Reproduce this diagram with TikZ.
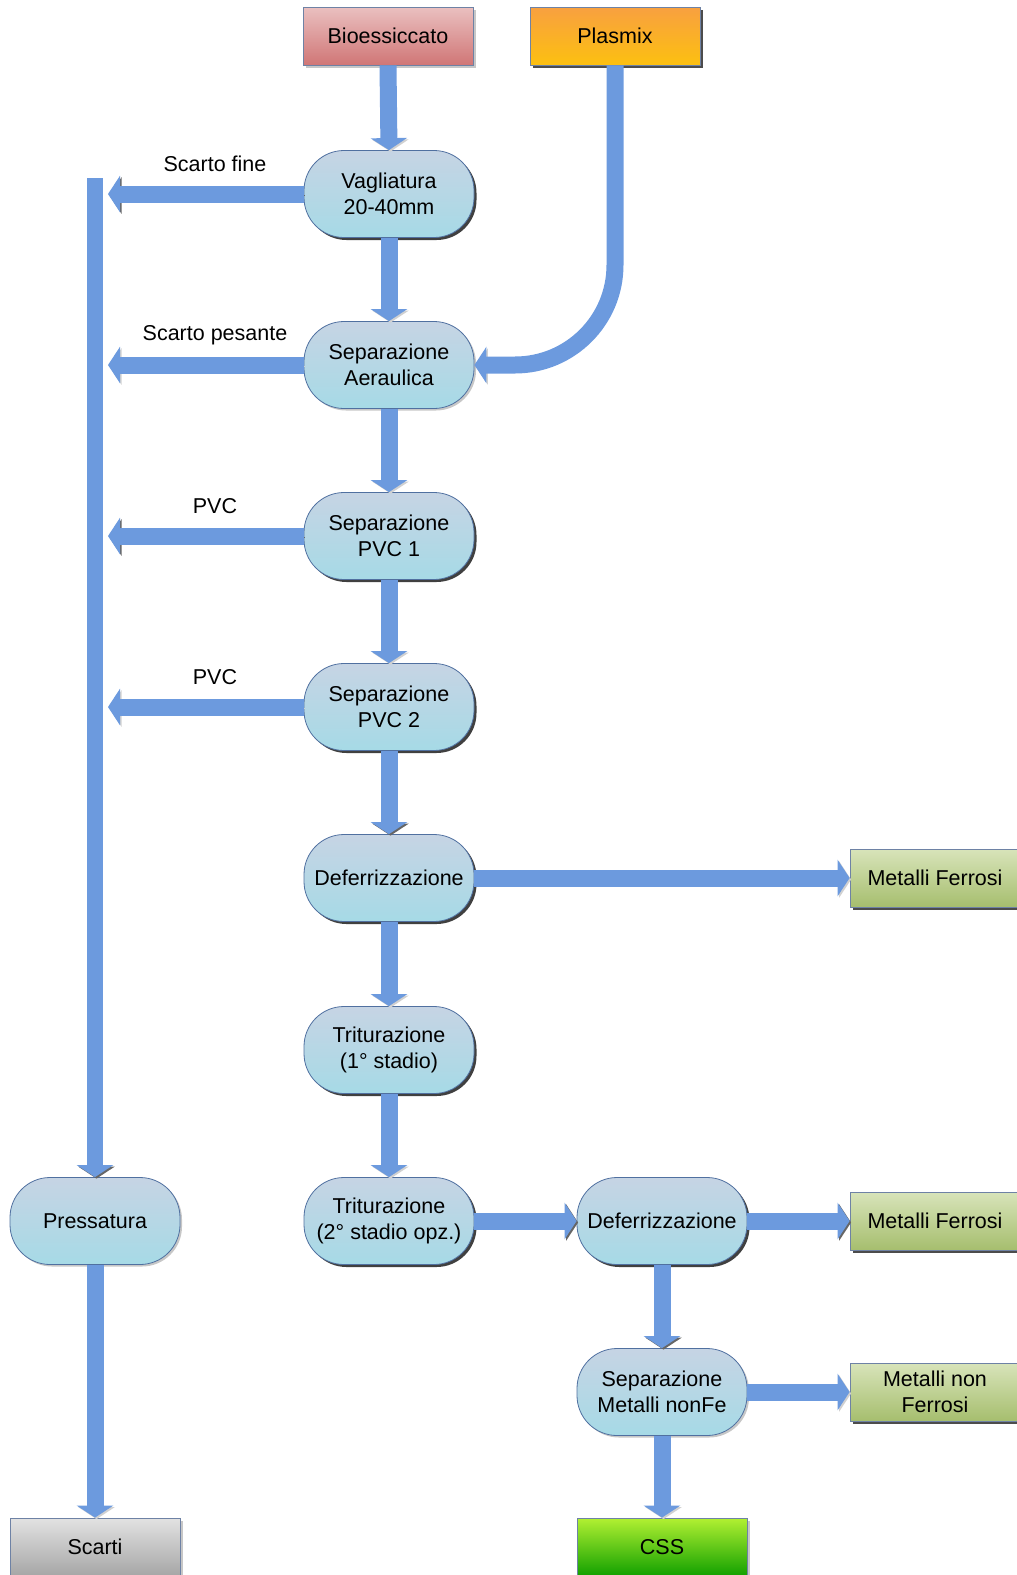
\documentclass[tikz,border=0pt]{standalone}
\usepackage{fontspec}
\setmainfont{Liberation Sans}
\usetikzlibrary{arrows.meta,shadows}
\definecolor{proctop}{RGB}{198,212,228}
\definecolor{procbot}{RGB}{166,218,230}
\definecolor{procborder}{RGB}{80,112,160}
\definecolor{boxborder}{RGB}{110,130,165}
\definecolor{flowblue}{RGB}{108,154,222}
\definecolor{biotop}{RGB}{234,192,192}
\definecolor{biobot}{RGB}{208,118,118}
\definecolor{platop}{RGB}{248,160,64}
\definecolor{plabot}{RGB}{252,192,16}
\definecolor{mettop}{RGB}{216,228,186}
\definecolor{metbot}{RGB}{166,190,110}
\definecolor{scatop}{RGB}{226,226,226}
\definecolor{scabot}{RGB}{166,166,166}
\definecolor{csstop}{RGB}{178,240,50}
\definecolor{cssbot}{RGB}{18,160,0}
\newcommand{\diafont}{\fontsize{21.5}{26}\selectfont}
\begin{document}
\begin{tikzpicture}[x=1pt,y=-1pt,
  proc/.style={rectangle, rounded corners=40pt, minimum width=170pt, minimum height=87pt,
    draw=procborder, line width=0.8pt, top color=proctop, bottom color=procbot,
    align=center, font=\diafont, inner sep=2pt},
  pdark/.style={proc, drop shadow={fill=black!75, opacity=1, shadow xshift=2.5pt, shadow yshift=-2.5pt}},
  plight/.style={proc, drop shadow={fill=black!22, opacity=1, shadow xshift=2pt, shadow yshift=-2pt}},
  box/.style={rectangle, minimum width=170pt, minimum height=58pt, draw=boxborder,
    line width=0.8pt, font=\diafont, align=center, inner sep=2pt},
  bdark/.style={box, drop shadow={fill=black!70, opacity=1, shadow xshift=3pt, shadow yshift=-3pt}},
  blight/.style={box, drop shadow={fill=black!22, opacity=1, shadow xshift=2.5pt, shadow yshift=-2.5pt}},
  lbl/.style={font=\diafont, inner sep=0pt},
  flow/.style={line width=17pt, draw=flowblue, -{Triangle[width=36pt,length=12pt]}},
  fd/.style={flow, preaction={draw=black!60, transform canvas={xshift=1.5pt,yshift=-1.5pt}}},
  fl/.style={flow, preaction={draw=black!18, transform canvas={xshift=1.5pt,yshift=-1.5pt}}}
]
\useasboundingbox (0,0) rectangle (1017,1575);
\clip (0,0) rectangle (1017,1575);

% source boxes
\node[blight, top color=biotop, bottom color=biobot] (bio) at (388,36) {Bioessiccato};
\node[bdark, top color=platop, bottom color=plabot] (pla) at (615,36) {Plasmix};

% main column
\node[pdark]  (vag)  at (389,194)  {Vagliatura\\20-40mm};
\node[plight] (aer)  at (389,365)  {Separazione\\Aeraulica};
\node[pdark]  (pvc1) at (389,536)  {Separazione\\PVC 1};
\node[pdark]  (pvc2) at (389,707)  {Separazione\\PVC 2};
\node[pdark]  (def)  at (389,878)  {Deferrizzazione};
\node[pdark]  (tri1) at (389,1050) {Triturazione\\(1° stadio)};
\node[pdark]  (tri2) at (389,1221) {Triturazione\\(2° stadio opz.)};

% left column
\node[plight] (press) at (95,1221) {Pressatura};
\node[blight, top color=scatop, bottom color=scabot] (sca) at (95,1547) {Scarti};

% right column
\node[pdark]  (def2) at (662,1221) {Deferrizzazione};
\node[plight] (sepm) at (662,1392) {Separazione\\Metalli nonFe};
\node[blight, top color=csstop, bottom color=cssbot] (css) at (662,1547) {CSS};

% output boxes
\node[bdark, top color=mettop, bottom color=metbot] (mf1) at (935,878)  {Metalli Ferrosi};
\node[bdark, top color=mettop, bottom color=metbot] (mf2) at (935,1221) {Metalli Ferrosi};
\node[bdark, top color=mettop, bottom color=metbot] (mnf) at (935,1392) {Metalli non\\Ferrosi};

% labels
\node[lbl] (l1) at (215,164) {Scarto fine};
\node[lbl] (l2) at (215,335) {Scarto pesante};
\node[lbl] (l3) at (215,506) {PVC};
\node[lbl] (l4) at (215,677) {PVC};

% coordinates on the collector bar
\coordinate (bartop) at (95,178);
\coordinate (t1) at (108,194);
\coordinate (t2) at (108,365);
\coordinate (t3) at (108,536);
\coordinate (t4) at (108,707);

% collector bar
\draw[fd, line width=16pt] (bartop) -- (press.north);

% left arrows
\draw[fd] (vag.west) -- (t1);
\draw[fl] (aer.west) -- (t2);
\draw[fd] (pvc1.west) -- (t3);
\draw[fl] (pvc2.west) -- (t4);

% main flow
\draw[fl] (bio.south) -- (vag.north);
\draw[fl] (vag.south) -- (aer.north);
\draw[fl] (aer.south) -- (pvc1.north);
\draw[fl] (pvc1.south) -- (pvc2.north);
\draw[fd] (pvc2.south) -- (def.north);
\draw[fl] (def.south) -- (tri1.north);
\draw[fl] (tri1.south) -- (tri2.north);
\draw[fl, rounded corners=100pt] (pla.south) |- (aer.east);

% right flows
\draw[fl] (def.east) -- (mf1.west);
\draw[fd] (tri2.east) -- (def2.west);
\draw[fd] (def2.east) -- (mf2.west);
\draw[fd] (def2.south) -- (sepm.north);
\draw[fl] (sepm.east) -- (mnf.west);
\draw[fl] (sepm.south) -- (css.north);
\draw[fl] (press.south) -- (sca.north);
\end{tikzpicture}
\end{document}
